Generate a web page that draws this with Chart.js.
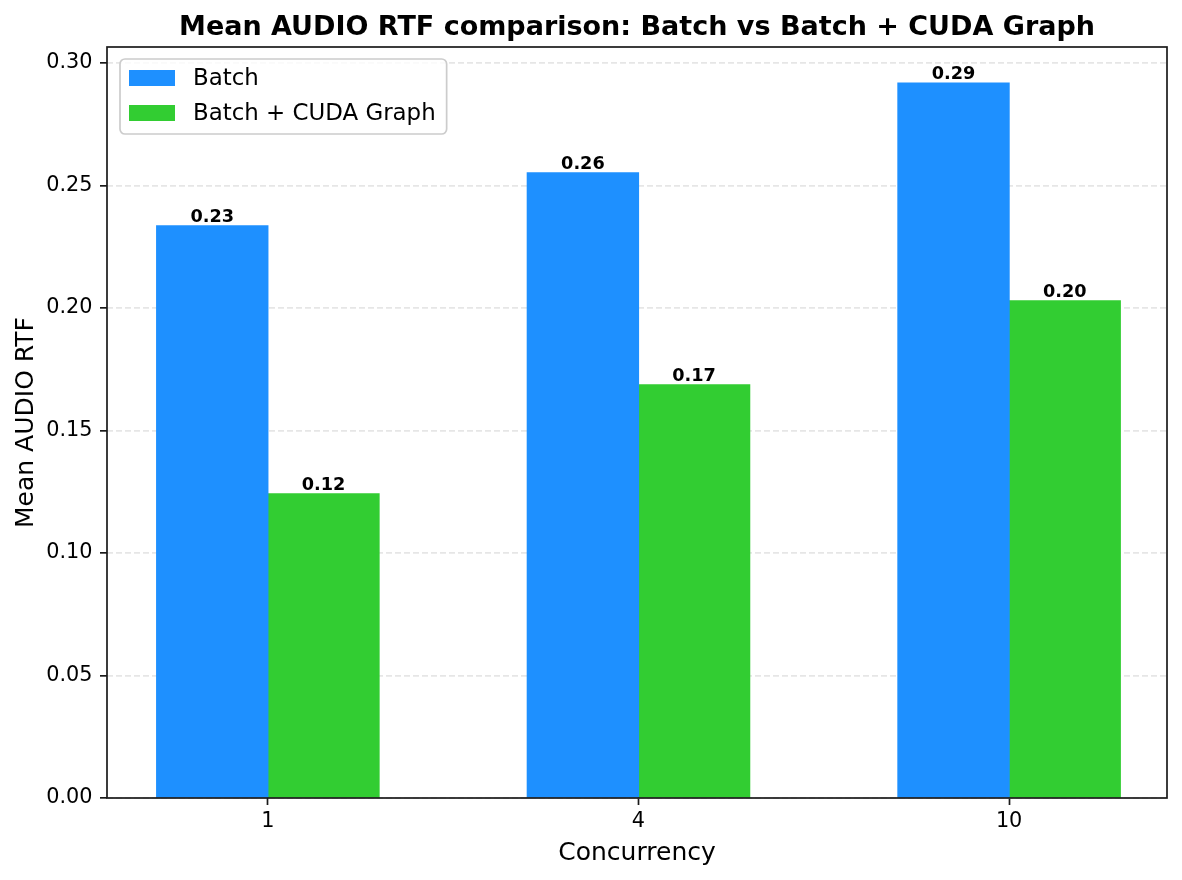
<!DOCTYPE html>
<html>
<head>
<meta charset="utf-8">
<script src="https://cdn.jsdelivr.net/npm/chart.js@4"></script>
<style>
  html, body { margin: 0; padding: 0; background: #fff; }
  canvas { display: block; }
</style>
</head>
<body>
<canvas id="chart" width="1182" height="880"></canvas>
<script>
/* data */
const categories     = ['1', '4', '10'];
const series_names   = ['Batch', 'Batch + CUDA Graph'];
const batch_rtf      = [0.2335, 0.2551, 0.2918];
const cuda_graph_rtf = [0.1241, 0.1686, 0.2029];
const y_ticks        = [0, 0.05, 0.10, 0.15, 0.20, 0.25, 0.30];
const title_text     = 'Mean AUDIO RTF comparison: Batch vs Batch + CUDA Graph';

const FONT  = '"DejaVu Sans", Verdana, sans-serif';
const INK   = '#1a1a1a';
const colors = ['#1E90FF', '#32CD32'];

/******************* PLUGINS **********************/

const frame_plugin = {
	id: 'frame',
	afterDraw(chart) {
		const { ctx, chartArea: a } = chart;
		ctx.save();
		ctx.strokeStyle = INK;
		ctx.lineWidth = 1.7;
		ctx.strokeRect(a.left, a.top, a.right - a.left, a.bottom - a.top);
		ctx.restore();
	}
};

const title_plugin = {
	id: 'axesTitle',
	afterDraw(chart) {
		const { ctx, chartArea: a } = chart;
		ctx.save();
		ctx.font = `bold 27px ${FONT}`;
		ctx.fillStyle = '#000';
		ctx.textAlign = 'center';
		ctx.textBaseline = 'alphabetic';
		ctx.fillText(title_text, (a.left + a.right) / 2, a.top - 12.5);
		ctx.restore();
	}
};

const value_labels = {
	id: 'valueLabels',
	afterDatasetsDraw(chart) {
		const { ctx } = chart;
		ctx.save();
		ctx.font = `bold 17.7px ${FONT}`;
		ctx.fillStyle = '#000';
		ctx.textAlign = 'center';
		ctx.textBaseline = 'alphabetic';
		chart.data.datasets.forEach((ds, i) => {
			chart.getDatasetMeta(i).data.forEach((bar, j) => {
				ctx.fillText(ds.data[j].y.toFixed(2), bar.x, bar.y - 4);
			});
		});
		ctx.restore();
	}
};

// legend sits inside the axes, upper left, like matplotlib's
const inner_legend = {
	id: 'innerLegend',
	afterDraw(chart) {
		const { ctx, chartArea: a } = chart;
		const datasets = chart.data.datasets;
		ctx.save();
		ctx.font = `22.9px ${FONT}`;
		let text_w = 0;
		datasets.forEach(ds => { text_w = Math.max(text_w, ctx.measureText(ds.label).width); });

		const x0 = a.left + 13, y0 = a.top + 12;
		const w = 73 + text_w + 11, h = 75;

		ctx.beginPath();
		ctx.roundRect(x0, y0, w, h, 5);
		ctx.fillStyle = 'rgba(255,255,255,0.8)';
		ctx.fill();
		ctx.lineWidth = 1.7;
		ctx.strokeStyle = '#cccccc';
		ctx.stroke();

		datasets.forEach((ds, i) => {
			const cy = y0 + 19 + i * 35;
			ctx.fillStyle = ds.backgroundColor;
			ctx.fillRect(x0 + 9, cy - 8, 46, 16);
			ctx.fillStyle = '#000';
			ctx.textAlign = 'left';
			ctx.textBaseline = 'middle';
			ctx.fillText(ds.label, x0 + 73, cy + 1);
		});
		ctx.restore();
	}
};

/******************* CHART **********************/

const datasets = [batch_rtf, cuda_graph_rtf].map((values, i) => ({
	label: series_names[i],
	data: values.map((v, j) => ({ x: j, y: v })),
	backgroundColor: colors[i],
	borderWidth: 0,
	inflateAmount: 0.6
}));

new Chart(document.getElementById('chart'), {
	type: 'bar',
	data: { datasets },
	options: {
		responsive: false,
		animation: false,
		devicePixelRatio: 1,
		categoryPercentage: 0.6,
		barPercentage: 1.0,
		layout: { padding: { top: 47, right: 15, bottom: 0, left: 0 } },
		plugins: {
			legend: { display: false },
			tooltip: { enabled: false },
			title: { display: false }
		},
		scales: {
			x: {
				type: 'linear',
				offset: false,
				min: -0.434,
				max: 2.426,
				afterBuildTicks: scale => { scale.ticks = categories.map((c, i) => ({ value: i })); },
				afterFit: scale => { scale.height = 82; },
				grid: {
					offset: false,
					drawOnChartArea: false,
					drawTicks: true,
					tickLength: 7,
					tickWidth: 1.7,
					tickColor: INK
				},
				border: { display: false },
				ticks: {
					padding: 4,
					color: '#000',
					font: { family: FONT, size: 20.8 },
					callback: value => categories[Math.round(value)]
				},
				title: {
					display: true,
					text: 'Concurrency',
					color: '#000',
					font: { family: FONT, size: 25 },
					padding: { top: 12, bottom: 12 }
				}
			},
			y: {
				min: 0,
				max: 0.3065,
				afterBuildTicks: scale => { scale.ticks = y_ticks.map(v => ({ value: v })); },
				afterFit: scale => { scale.width = 107; },
				grid: {
					color: '#e6e6e6',
					lineWidth: 1.7,
					drawTicks: true,
					tickLength: 7,
					tickWidth: 1.7,
					tickColor: INK,
					tickBorderDash: []
				},
				border: { display: false, dash: [6, 3] },
				ticks: {
					padding: 7.5,
					color: '#000',
					font: { family: FONT, size: 20.8 },
					callback: value => value.toFixed(2)
				},
				title: {
					display: true,
					text: 'Mean AUDIO RTF',
					color: '#000',
					font: { family: FONT, size: 25 },
					padding: { top: 11.5, bottom: 0 }
				}
			}
		}
	},
	plugins: [value_labels, frame_plugin, inner_legend, title_plugin]
});
</script>
</body>
</html>
